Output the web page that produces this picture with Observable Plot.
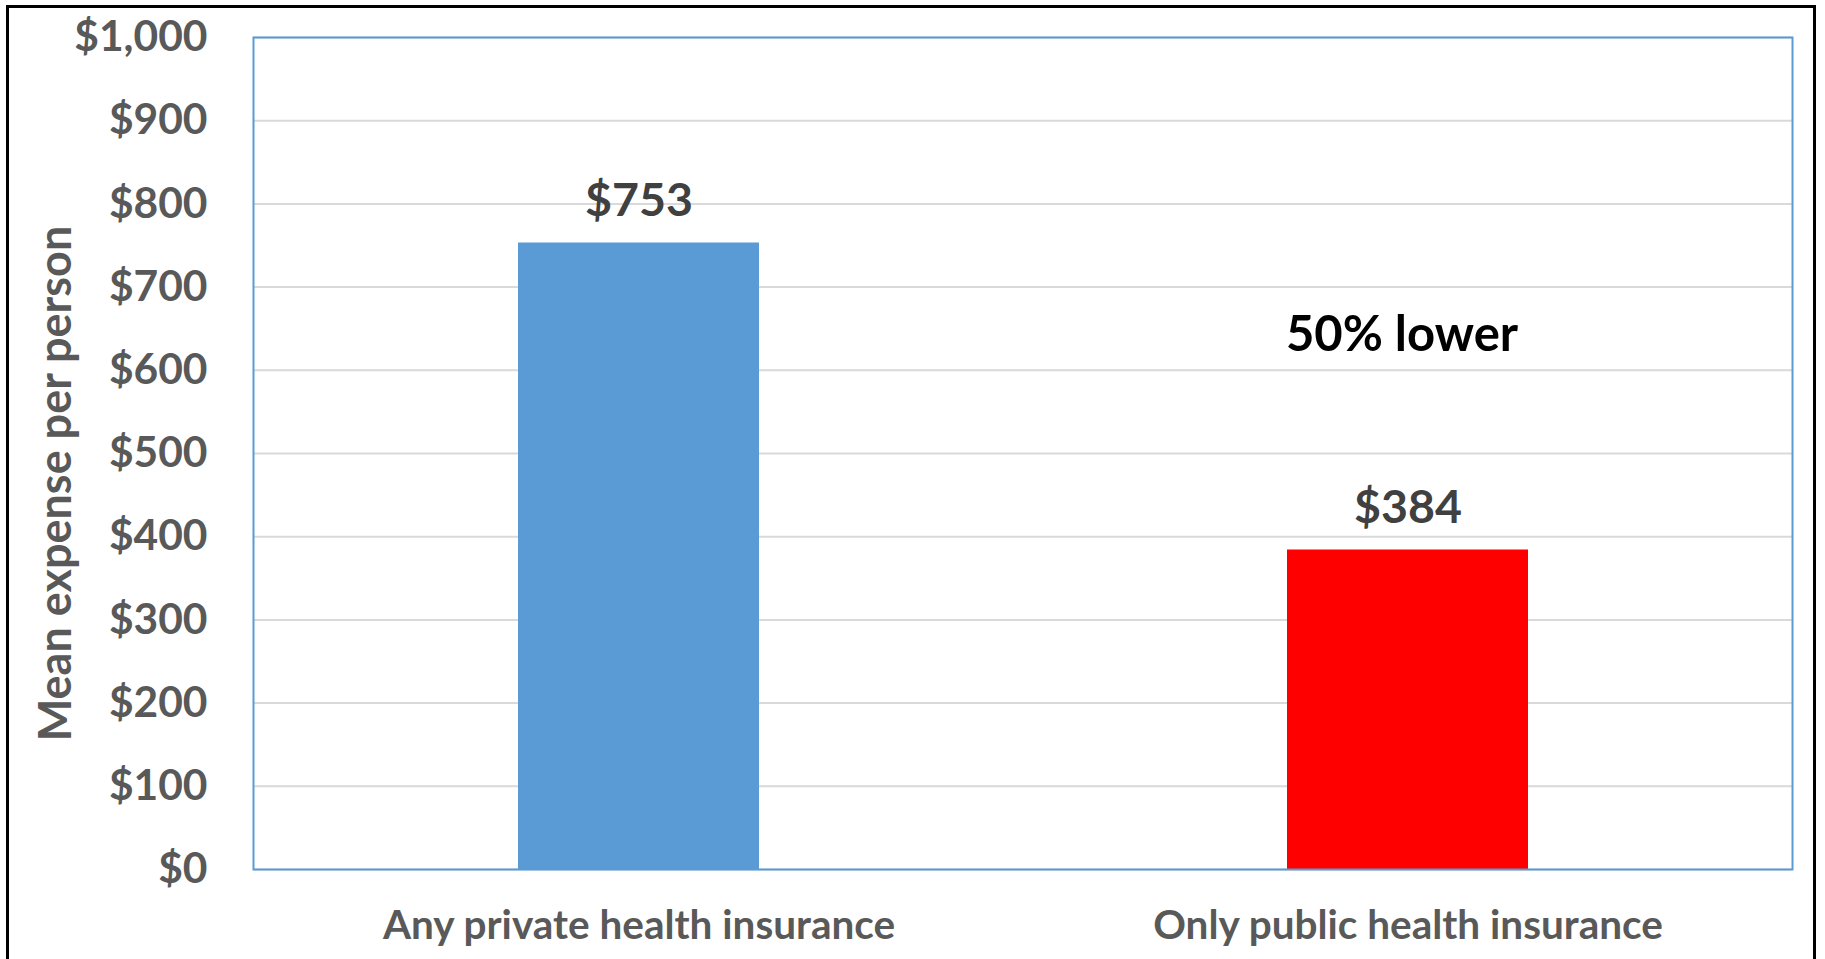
<!DOCTYPE html>
<html>
<head>
<meta charset="utf-8">
<script src="https://cdn.jsdelivr.net/npm/d3@7"></script>
<script src="https://cdn.jsdelivr.net/npm/@observablehq/plot@0.6"></script>
<style>
  html, body { margin: 0; padding: 0; background: #fff; width: 1825px; height: 959px; overflow: hidden; }
  #border { position: absolute; left: 6px; top: 5px; width: 1810px; height: 1000px; border: 3px solid #000; box-sizing: border-box; }
  #chart { position: absolute; left: 0; top: 0; }
</style>
</head>
<body>
<div id="border"></div>
<div id="chart"></div>
<script>
const categories = ["Any private health insurance", "Only public health insurance"];
const values = [753, 384];
const barColors = ["#5b9bd5", "#ff0000"];
const yTicks = [0, 100, 200, 300, 400, 500, 600, 700, 800, 900, 1000];
const yLabel = "Mean expense per person";
const annotation = "50% lower";
const annotationValue = 620;

const data = categories.map((c, i) => ({ category: c, value: values[i], color: barColors[i] }));
const font = "Lato, 'Open Sans', sans-serif";

const plot = Plot.plot({
  width: 1825,
  height: 959,
  marginLeft: 253,
  marginTop: 37,
  marginRight: 33,
  marginBottom: 90,
  style: { fontFamily: font, background: "transparent", overflow: "visible" },
  x: { domain: categories, paddingInner: 0.687, paddingOuter: 0.3435, label: null },
  y: { domain: [0, 1000], label: null },
  marks: [
    Plot.gridY(yTicks, { stroke: "#d9d9d9", strokeOpacity: 1, strokeWidth: 2 }),
    Plot.barY(data, { x: "category", y: "value", fill: "color" }),
    Plot.frame({ stroke: "#5b9bd5", strokeWidth: 2 }),
    Plot.axisY({ ticks: yTicks, tickSize: 0, tickPadding: 46, tickFormat: d => "$" + d3.format(",")(d), fontSize: 42.5, fontWeight: "bold", fill: "#595959", label: null }),
    Plot.axisX({ tickSize: 0, tickPadding: 41, fontSize: 40.5, fontWeight: "bold", fill: "#595959", label: null }),
    Plot.text(data, { x: "category", y: "value", text: d => "$" + d.value, dy: -42, fontSize: 46.5, fontWeight: "bold", fill: "#404040" }),
    Plot.text([annotation], { x: [categories[1]], y: [annotationValue], text: d => d, dx: -6, dy: -18, fontSize: 49, fontWeight: "bold", fill: "#000" }),
    Plot.text([yLabel], { frameAnchor: "left", textAnchor: "middle", text: d => d, rotate: -90, dx: -197, dy: 30, fontSize: 45, fontWeight: "bold", fill: "#595959" })
  ]
});
document.getElementById("chart").appendChild(plot);
</script>
</body>
</html>
